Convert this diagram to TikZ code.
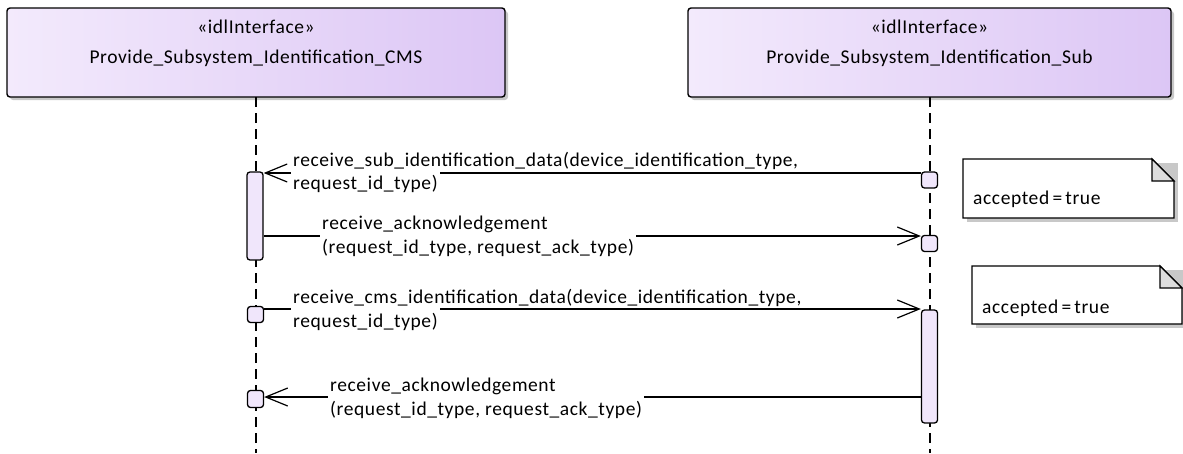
\documentclass[tikz,border=0pt]{standalone}
\usepackage{fontspec}
\setmainfont{Carlito}[LetterSpace=3.0]
\usetikzlibrary{arrows.meta,calc}
\definecolor{hdrL}{RGB}{243,234,252}
\definecolor{hdrR}{RGB}{220,198,245}
\definecolor{actfill}{RGB}{240,230,251}
\definecolor{shadowc}{RGB}{200,200,200}
\definecolor{foldc}{RGB}{221,221,221}
\tikzset{
  hdr/.style={draw=black, line width=1.4pt, rounded corners=3pt, left color=hdrL, right color=hdrR, minimum height=89pt, inner sep=0pt},
  hdrshadow/.style={fill=shadowc, rounded corners=3pt},
  lifeline/.style={draw=black, line width=1.1pt, dash pattern=on 10pt off 6pt},
  actbox/.style={draw=black, line width=1.3pt, fill=actfill, rounded corners=3pt, minimum width=16pt, inner sep=0pt},
  msg/.style={draw=black, line width=1.2pt},
  msgarrow/.style={msg, -{Straight Barb[length=22pt, width=18pt, line width=1.2pt]}},
  lbl/.style={font=\fontsize{19.5}{23}\selectfont, inner sep=0pt, anchor=base west},
  lblbg/.style={lbl, fill=white, inner xsep=2pt, inner ysep=1pt, text height=18pt, xshift=-2pt},
  hdrtxt/.style={font=\fontsize{19.5}{23}\selectfont, inner sep=0pt, anchor=base},
  notetxt/.style={font=\fontsize{19.5}{23}\selectfont, inner sep=0pt, anchor=base west},
}
\begin{document}
\begin{tikzpicture}[x=1pt, y=-1pt]
\useasboundingbox (0,0) rectangle (1183,453);
% lifelines
\coordinate (cmsEnd) at (256,453);
\coordinate (subEnd) at (930,453);
% header shadows
\fill[hdrshadow] (10,11) rectangle (508,100);
\fill[hdrshadow] (691,11) rectangle (1174,100);
% headers
\node[hdr, minimum width=498pt] (cms) at (256,52.5) {};
\node[hdr, minimum width=483pt] (sub) at (929.5,52.5) {};
\draw[lifeline] (256,97) -- (cmsEnd);
\draw[lifeline] (930,97) -- (subEnd);
\node[hdrtxt] (cmsst) at (256,33) {«idlInterface»};
\node[hdrtxt] (cmsnm) at (256,63) {Provide\_Subsystem\_Identification\_CMS};
\node[hdrtxt] (subst) at (929.5,33) {«idlInterface»};
\node[hdrtxt] (subnm) at (929.5,63) {Provide\_Subsystem\_Identification\_Sub};
% activations and execution points
\node[actbox, minimum height=88pt] (actA) at (255,216) {};
\node[actbox, minimum height=16pt] (ptA) at (929.5,180) {};
\node[actbox, minimum height=16pt] (ptB) at (929.5,243.5) {};
\node[actbox, minimum height=16pt] (ptC) at (255.5,314.5) {};
\node[actbox, minimum height=113pt] (actB) at (929.5,366.5) {};
\node[actbox, minimum height=17pt] (ptD) at (255.5,399) {};
% message 1
\draw[msgarrow] (ptA.west |- 0,173) -- (actA.east |- 0,173);
\node[lblbg] (m1b) at (293,189) {request\_id\_type)};
\node[lbl] (m1a) at (293,166) {receive\_sub\_identification\_data(device\_identification\_type,};
% message 2
\draw[msgarrow] (actA.east |- 0,236) -- (ptB.west |- 0,236);
\node[lblbg] (m2b) at (322,253) {(request\_id\_type, request\_ack\_type)};
\node[lbl] (m2a) at (322,229) {receive\_acknowledgement};
% message 3
\draw[msgarrow] (ptC.east |- 0,309) -- (actB.west |- 0,309);
\node[lblbg] (m3b) at (293,327) {request\_id\_type)};
\node[lbl] (m3a) at (293,303) {receive\_cms\_identification\_data(device\_identification\_type,};
% message 4
\draw[msgarrow] (actB.west |- 0,397) -- (ptD.east |- 0,397);
\node[lblbg] (m4b) at (330,415) {(request\_id\_type, request\_ack\_type)};
\node[lbl] (m4a) at (330,391) {receive\_acknowledgement};
% notes
\fill[shadowc] (967,163) rectangle (1178,222);
\draw[line width=1.2pt, fill=white] (963,159) -- (1152,159) -- (1174,181) -- (1174,218) -- (963,218) -- cycle;
\draw[line width=1.2pt, fill=foldc] (1152,159) -- (1152,181) -- (1174,181) -- cycle;
\node[notetxt] (n1) at (973,204) {accepted\,=\,true};
\fill[shadowc] (976,270) rectangle (1183,328);
\draw[line width=1.2pt, fill=white] (972,266) -- (1160,266) -- (1182,288) -- (1182,324) -- (972,324) -- cycle;
\draw[line width=1.2pt, fill=foldc] (1160,266) -- (1160,288) -- (1182,288) -- cycle;
\node[notetxt] (n2) at (982,313) {accepted\,=\,true};
\end{tikzpicture}
\end{document}
